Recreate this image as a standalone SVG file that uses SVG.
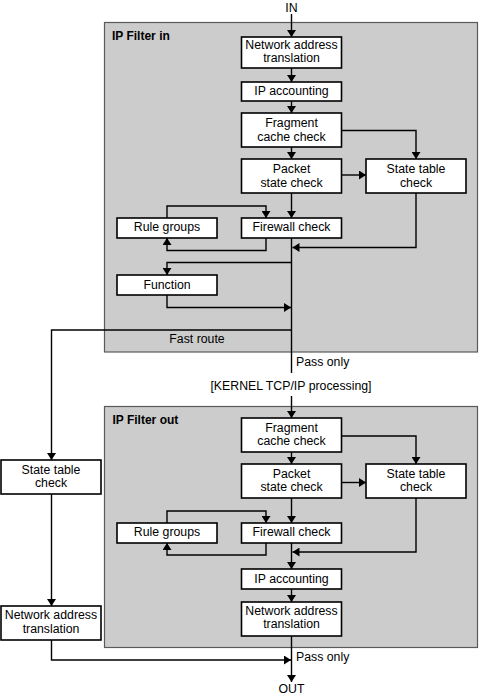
<svg xmlns="http://www.w3.org/2000/svg" width="479" height="699" viewBox="0 0 479 699">
<defs>
<marker id="ah" markerUnits="userSpaceOnUse" markerWidth="9" markerHeight="9" refX="7" refY="4.5" orient="auto">
<path d="M0,0 L7,4.5 L0,9 z" fill="#000"/>
</marker>
</defs>
<style>
.panel{fill:#cccccc;stroke:#5a5a5a;stroke-width:1.2}
.box{fill:#fff;stroke:#000;stroke-width:1.6}
.t{font-family:"Liberation Sans",Arial,sans-serif;font-size:12.3px;fill:#000;text-anchor:middle}
.tl{font-family:"Liberation Sans",Arial,sans-serif;font-size:12.3px;fill:#000}
.tb{font-family:"Liberation Sans",Arial,sans-serif;font-size:12px;font-weight:bold;fill:#000}
.c{fill:none;stroke:#000;stroke-width:1.4}
.a{marker-end:url(#ah)}
</style>
<rect id="panel-in" class="panel" x="104.5" y="22.5" width="373" height="329.5"/>
<rect id="panel-out" class="panel" x="104.5" y="406.5" width="373" height="241"/>
<text class="tb" x="112" y="39.5">IP Filter in</text>
<text class="tb" x="112.5" y="423.5">IP Filter out</text>

<g id="connectors">
<path class="c a" d="M291.5,14 V37"/>
<path class="c a" d="M291.5,68 V82"/>
<path class="c a" d="M291.5,101 V113"/>
<path class="c a" d="M291.5,147 V159"/>
<path class="c a" d="M341.5,130.5 H416 V159"/>
<path class="c a" d="M341.5,175 H366"/>
<path class="c a" d="M291.5,193 V218"/>
<path class="c a" d="M167,218 V206 H266 V218"/>
<path class="c a" d="M266,238 V250.5 H167 V238"/>
<path class="c a" d="M416,193 V247.5 H292.5"/>
<path class="c" d="M291.5,238 V373"/>
<path class="c a" d="M291.5,262.5 H167 V275"/>
<path class="c a" d="M167,295 V307.5 H291"/>
<path class="c a" d="M291.5,330 H51.5 V460"/>
<path class="c a" d="M291.5,396 V418"/>
<path class="c a" d="M291.5,452 V464"/>
<path class="c a" d="M341.5,436 H416 V464"/>
<path class="c a" d="M341.5,482.5 H366"/>
<path class="c a" d="M291.5,498 V523"/>
<path class="c a" d="M167,523 V511 H266 V523"/>
<path class="c a" d="M266,543 V555 H167 V543"/>
<path class="c a" d="M416,498 V552 H292.5"/>
<path class="c a" d="M291.5,543 V569"/>
<path class="c a" d="M291.5,589 V602"/>
<path class="c a" d="M291.5,636 V682"/>
<path class="c a" d="M51.5,494 V606"/>
<path class="c a" d="M51.5,640 V660 H291"/>
</g>

<text class="t" x="291.5" y="11.5">IN</text>
<text class="t" x="197" y="343">Fast route</text>
<text class="tl" x="296" y="366">Pass only</text>
<text class="t" x="291" y="389.5">[KERNEL TCP/IP processing]</text>
<text class="tl" x="296" y="661">Pass only</text>
<text class="t" x="291.5" y="693">OUT</text>

<g id="nat-in"><rect class="box" x="241.5" y="37" width="100" height="31"/><text class="t" x="291.5" y="48.5">Network address</text><text class="t" x="291.5" y="62">translation</text></g>
<g id="ipacc-in"><rect class="box" x="241.5" y="82" width="100" height="19"/><text class="t" x="291.5" y="94.5">IP accounting</text></g>
<g id="frag-in"><rect class="box" x="241.5" y="113" width="100" height="34"/><text class="t" x="291.5" y="127">Fragment</text><text class="t" x="291.5" y="140.5">cache check</text></g>
<g id="packet-in"><rect class="box" x="241.5" y="159" width="100" height="34"/><text class="t" x="291.5" y="172.5">Packet</text><text class="t" x="291.5" y="186.5">state check</text></g>
<g id="state-in"><rect class="box" x="366" y="159" width="100" height="34"/><text class="t" x="416" y="172.5">State table</text><text class="t" x="416" y="186.5">check</text></g>
<g id="rules-in"><rect class="box" x="117" y="218" width="100" height="20"/><text class="t" x="167" y="231">Rule groups</text></g>
<g id="fw-in"><rect class="box" x="241.5" y="218" width="100" height="20"/><text class="t" x="291.5" y="231">Firewall check</text></g>
<g id="function-in"><rect class="box" x="117" y="275" width="100" height="20"/><text class="t" x="167" y="288.5">Function</text></g>

<g id="frag-out"><rect class="box" x="241.5" y="418" width="100" height="34"/><text class="t" x="291.5" y="431.5">Fragment</text><text class="t" x="291.5" y="445">cache check</text></g>
<g id="packet-out"><rect class="box" x="241.5" y="464" width="100" height="34"/><text class="t" x="291.5" y="477.5">Packet</text><text class="t" x="291.5" y="491">state check</text></g>
<g id="state-out"><rect class="box" x="366" y="464" width="100" height="34"/><text class="t" x="416" y="477.5">State table</text><text class="t" x="416" y="491">check</text></g>
<g id="rules-out"><rect class="box" x="117" y="523" width="100" height="20"/><text class="t" x="167" y="536">Rule groups</text></g>
<g id="fw-out"><rect class="box" x="241.5" y="523" width="100" height="20"/><text class="t" x="291.5" y="536">Firewall check</text></g>
<g id="ipacc-out"><rect class="box" x="241.5" y="569" width="100" height="20"/><text class="t" x="291.5" y="582.5">IP accounting</text></g>
<g id="nat-out"><rect class="box" x="241.5" y="602" width="100" height="34"/><text class="t" x="291.5" y="614.5">Network address</text><text class="t" x="291.5" y="628">translation</text></g>

<g id="state-left"><rect class="box" x="1" y="460" width="100" height="34"/><text class="t" x="51" y="473.5">State table</text><text class="t" x="51" y="487">check</text></g>
<g id="nat-left"><rect class="box" x="1" y="606" width="100" height="34"/><text class="t" x="51" y="618.5">Network address</text><text class="t" x="51" y="632.5">translation</text></g>
</svg>
